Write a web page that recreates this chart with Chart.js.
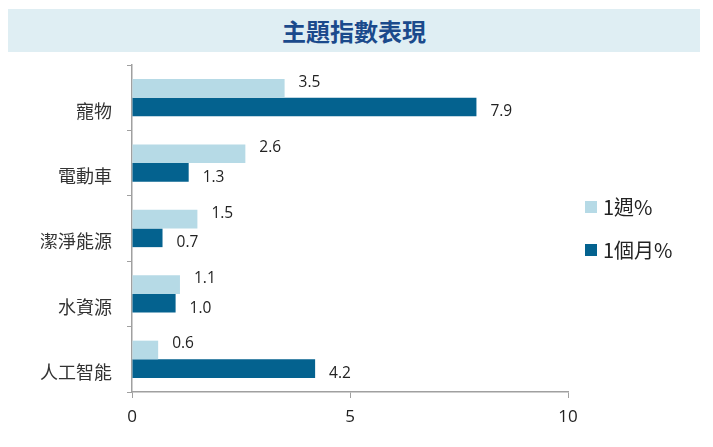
<!DOCTYPE html>
<html>
<head>
<meta charset="utf-8">
<script src="https://cdn.jsdelivr.net/npm/chart.js@4/dist/chart.umd.min.js"></script>
<style>
    body { margin: 0; background: #ffffff; }
    #wrap { position: relative; width: 713px; height: 447px; }
    #title {
        position: absolute; left: 8px; top: 9px; width: 692px; height: 43px;
        background: #dfeef3; color: #1b4a8c;
        font: bold 24px "Noto Sans CJK TC", sans-serif;
        line-height: 43px; text-align: center;
    }
    #chartBox { position: absolute; left: 0; top: 0; width: 713px; height: 447px; }
    .legend {
        position: absolute; left: 585px;
        font: 20px "Noto Sans CJK TC", "Open Sans", sans-serif; color: #222;
        display: flex; align-items: center;
    }
    .legend span.box { display: inline-block; width: 12px; height: 12px; margin-right: 6px; }
</style>
</head>
<body>
<div id="wrap">
    <div id="chartBox"><canvas id="themeChart" width="713" height="447"></canvas></div>
    <div id="title">主題指數表現</div>
    <div class="legend" style="top:192px"><span class="box" style="background:#b6dae6"></span>1週%</div>
    <div class="legend" style="top:235px"><span class="box" style="background:#04628f"></span>1個月%</div>
</div>
<script>
// Chart data
const categories = ['寵物', '電動車', '潔淨能源', '水資源', '人工智能'];
const weekChange = [3.5, 2.6, 1.5, 1.1, 0.6];
const monthChange = [7.9, 1.3, 0.7, 1.0, 4.2];
const xTicks = [0, 5, 10];

// Draws the value next to the end of each bar
const valueLabels = {
    id: 'valueLabels',
    afterDatasetsDraw(chart) {
        const ctx = chart.ctx;
        ctx.save();
        ctx.font = '15.5px "Open Sans", sans-serif';
        ctx.fillStyle = '#222';
        ctx.textAlign = 'left';
        ctx.textBaseline = 'middle';
        chart.data.datasets.forEach((ds, i) => {
            chart.getDatasetMeta(i).data.forEach((bar, j) => {
                const dy = i === 0 ? -6 : 5;
                ctx.fillText(ds.data[j].toFixed(1), bar.x + 14, bar.y + dy);
            });
        });
        ctx.restore();
    }
};

new Chart(document.getElementById('themeChart'), {
    type: 'bar',
    data: {
        labels: categories,
        datasets: [{
            label: '1週%',
            data: weekChange,
            backgroundColor: '#b6dae6',
            categoryPercentage: 0.57,
            barPercentage: 1.0
        }, {
            label: '1個月%',
            data: monthChange,
            backgroundColor: '#04628f',
            categoryPercentage: 0.57,
            barPercentage: 1.0
        }]
    },
    options: {
        indexAxis: 'y',
        responsive: false,
        animation: false,
        layout: { padding: { top: 65, right: 145, bottom: 0, left: 0 } },
        plugins: {
            legend: { display: false },
            tooltip: { enabled: false }
        },
        scales: {
            x: {
                min: 0,
                max: 10,
                afterBuildTicks: scale => { scale.ticks = xTicks.map(v => ({ value: v })); },
                afterFit: scale => { scale.height = 55; },
                grid: { drawOnChartArea: false, tickLength: 6, color: '#a0a0a0' },
                border: { color: '#a0a0a0', width: 1.5 },
                ticks: {
                    color: '#222',
                    padding: 9,
                    font: { family: 'Open Sans', size: 17 }
                }
            },
            y: {
                afterFit: scale => { scale.width = 132; },
                grid: { drawOnChartArea: false, offset: true, tickLength: 5, color: '#a0a0a0' },
                border: { color: '#a0a0a0', width: 1.5 },
                ticks: {
                    color: '#333',
                    padding: 15,
                    labelOffset: 13,
                    font: { family: 'Noto Sans CJK TC', size: 18 }
                }
            }
        }
    },
    plugins: [valueLabels]
});
</script>
</body>
</html>
